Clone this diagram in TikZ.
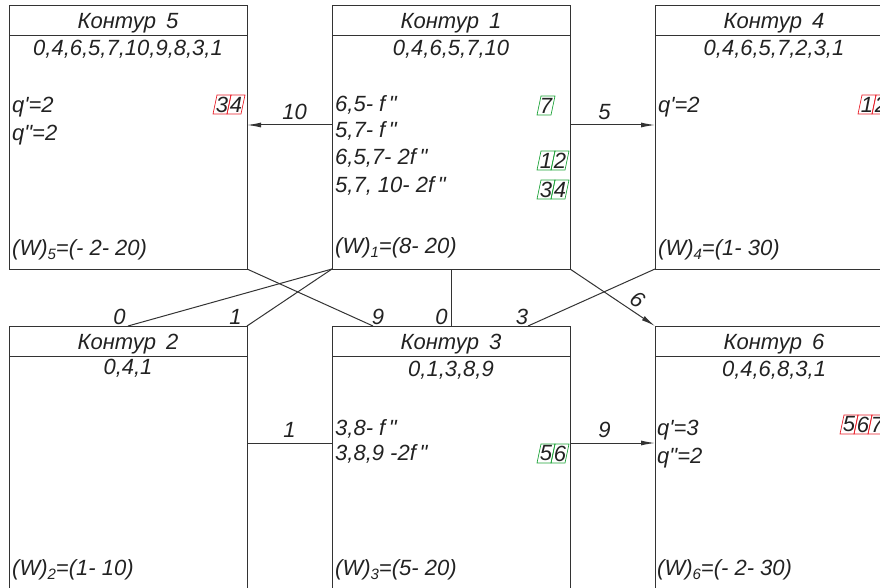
\documentclass[tikz,border=0pt]{standalone}
\usepackage{fontspec}
\setmainfont{Liberation Sans}
\usetikzlibrary{arrows.meta,calc}
\definecolor{ink}{HTML}{222222}
\definecolor{lncol}{HTML}{333333}
\definecolor{redbox}{HTML}{E8202A}
\definecolor{greenbox}{HTML}{1FA33A}
\newcommand\sbs[1]{\raisebox{-4pt}{\fontsize{15}{15}\selectfont #1}}
\newcommand\dcells[5]{% name, x, y bottom, colour, digits
  \foreach \d [count=\i from 0] in {#5} {
    \draw[#4, line width=0.7pt] ({#2+14*\i}, #3) -- ++(14,0) -- ++(4,-19) -- ++(-14,0) -- cycle;
    \node[tx, anchor=center] (#1\i) at ({#2+14*\i+9}, {#3-9.5}) {\d};
  }}
\begin{document}
\begin{tikzpicture}[x=1pt,y=-1pt,
  tx/.style={font=\fontsize{22}{22}\selectfont\itshape, text=ink, inner sep=0pt},
  kbox/.style={draw=lncol, line width=1pt, minimum width=238pt, minimum height=263pt, inner sep=0pt, outer sep=0pt, anchor=north west},
  ln/.style={draw=lncol, line width=1pt},
  arr/.style={ln, -{Latex[length=14pt,width=5pt]}},
  lab/.style={tx}]
\useasboundingbox (0,0) rectangle (880,588);
\clip (0,0) rectangle (880,588);
% boxes
\node[kbox] (k5) at (9,6) {};
\node[kbox] (k1) at (332,6) {};
\node[kbox] (k4) at (655,6) {};
\node[kbox] (k2) at (9,326) {};
\node[kbox] (k3) at (332,326) {};
\node[kbox] (k6) at (655,326) {};
\foreach \k in {k5,k1,k4,k2,k3,k6}
  \draw[ln] ([yshift=-30pt]\k.north west) -- ([yshift=-30pt]\k.north east);
% titles
\node[tx, anchor=base] (t5) at (128,29) {Контур\hspace{4pt} 5};
\node[tx, anchor=base] (t1) at (451,29) {Контур\hspace{4pt} 1};
\node[tx, anchor=base] (t4) at (774,29) {Контур\hspace{4pt} 4};
\node[tx, anchor=base] (t2) at (128,349) {Контур\hspace{4pt} 2};
\node[tx, anchor=base] (t3) at (451,349) {Контур\hspace{4pt} 3};
\node[tx, anchor=base] (t6) at (774,349) {Контур\hspace{4pt} 6};
% sequences
\node[tx, anchor=base] (s5) at (128,56) {0,4,6,5,7,10,9,8,3,1};
\node[tx, anchor=base] (s1) at (451,56) {0,4,6,5,7,10};
\node[tx, anchor=base] (s4) at (774,56) {0,4,6,5,7,2,3,1};
\node[tx, anchor=base] (s2) at (128,374) {0,4,1};
\node[tx, anchor=base] (s3) at (451,376) {0,1,3,8,9};
\node[tx, anchor=base] (s6) at (774,376) {0,4,6,8,3,1};
% box 5
\node[tx, anchor=base west] (a5) at (12,113) {q\textquotesingle=2};
\node[tx, anchor=base west] (b5) at (12,141) {q\textquotedbl=2};
\node[tx, anchor=base west] (w5) at (12,255) {(W)\sbs{5}=(- 2- 20)};
\dcells{c5}{213}{114}{redbox}{3,4}
% box 1
\node[tx, anchor=base west] (a1) at (335,112) {6,5- f\,\textquotedbl};
\node[tx, anchor=base west] (b1) at (335,138) {5,7- f\,\textquotedbl};
\node[tx, anchor=base west] (c1) at (335,165) {6,5,7- 2f\,\textquotedbl};
\node[tx, anchor=base west] (d1) at (335,193) {5,7, 10- 2f\,\textquotedbl};
\node[tx, anchor=base west] (w1) at (335,253) {(W)\sbs{1}=(8- 20)};
\dcells{g1a}{537}{115}{greenbox}{7}
\dcells{g1b}{537}{170}{greenbox}{1,2}
\dcells{g1c}{537}{199}{greenbox}{3,4}
% box 4
\node[tx, anchor=base west] (a4) at (658,113) {q\textquotesingle=2};
\node[tx, anchor=base west] (w4) at (658,255) {(W)\sbs{4}=(1- 30)};
\dcells{c4}{858}{114}{redbox}{1,2}
% box 2
\node[tx, anchor=base west] (w2) at (12,575) {(W)\sbs{2}=(1- 10)};
% box 3
\node[tx, anchor=base west] (a3) at (335,435) {3,8- f\,\textquotedbl};
\node[tx, anchor=base west] (b3) at (335,460) {3,8,9 -2f\,\textquotedbl};
\node[tx, anchor=base west] (w3) at (335,575) {(W)\sbs{3}=(5- 20)};
\dcells{g3}{537}{463}{greenbox}{5,6}
% box 6
\node[tx, anchor=base west] (a6) at (657,435) {q\textquotesingle=3};
\node[tx, anchor=base west] (b6) at (657,463) {q\textquotedbl=2};
\node[tx, anchor=base west] (w6) at (657,575) {(W)\sbs{6}=(- 2- 30)};
\dcells{c6}{840}{434}{redbox}{5,6,7}
% connectors
\draw[arr] ([yshift=-119pt]k1.north west) -- ([yshift=-119pt]k5.north east)
  node[lab, midway, above=5pt, xshift=5pt] {10};
\draw[arr] ([yshift=-119pt]k1.north east) -- ([yshift=-119pt]k4.north west)
  node[lab, midway, above=5pt, xshift=-8pt] {5};
\draw[ln] (k1.south west) -- (k2.north)
  node[lab, pos=1, anchor=south east, xshift=-2pt, yshift=1pt] {0};
\draw[ln] (k1.south west) -- (k2.north east)
  node[lab, pos=1, anchor=south east, xshift=-5pt, yshift=1pt] {1};
\draw[ln] (k5.south east) -- ([xshift=41pt]k3.north west)
  node[lab, pos=1, anchor=south, xshift=5pt, yshift=1pt] {9};
\draw[ln] (k1.south) -- (k3.north)
  node[lab, pos=1, anchor=south east, xshift=-3pt, yshift=1pt] {0};
\draw[ln] (k4.south west) -- ([xshift=196pt]k3.north west)
  node[lab, pos=1, anchor=south, xshift=-6pt, yshift=1pt] {3};
\draw[arr] (k1.south east) -- (k6.north west)
  node[lab, pos=0.72, sloped, above=4pt] {6};
\draw[ln] ([yshift=-117pt]k2.north east) -- ([yshift=-117pt]k3.north west)
  node[lab, midway, above=5pt] {1};
\draw[arr] ([yshift=-117pt]k3.north east) -- ([yshift=-117pt]k6.north west)
  node[lab, midway, above=5pt, xshift=-8pt] {9};
\end{tikzpicture}
\end{document}
